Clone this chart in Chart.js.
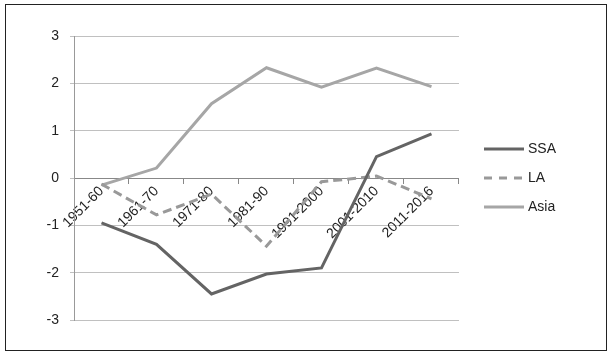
<!DOCTYPE html>
<html>
<head>
<meta charset="utf-8">
<script src="https://cdn.jsdelivr.net/npm/chart.js@4"></script>
<style>
  html, body { margin: 0; padding: 0; background: #fff; }
  #frame { position: absolute; left: 5px; top: 4px; width: 600px; height: 345px; border: 1px solid #222; }
  #wrap { position: absolute; left: 0; top: 0; width: 612px; height: 357px; }
</style>
</head>
<body>
<div id="frame"></div>
<div id="wrap"><canvas id="chart"></canvas></div>
<script>
// decades on the x axis
const periods = ['1951-60', '1961-70', '1971-80', '1981-90', '1991-2000', '2001-2010', '2011-2016'];

// values
const ssa = [-0.95, -1.40, -2.45, -2.03, -1.90, 0.45, 0.93];
const la = [-0.13, -0.78, -0.34, -1.44, -0.08, 0.04, -0.44];
const asia = [-0.15, 0.21, 1.57, 2.33, 1.92, 2.32, 1.93];

const yTicks = [-3, -2, -1, 0, 1, 2, 3];

const font = { family: 'Liberation Sans', size: 14 };

// little line samples for the legend (so the LA sample is dashed too)
function legendLine(color, dash) {
    const c = document.createElement('canvas');
    c.width = 40;
    c.height = 4;
    const g = c.getContext('2d');
    g.strokeStyle = color;
    g.lineWidth = 3;
    g.setLineDash(dash);
    g.beginPath();
    g.moveTo(0, 2);
    g.lineTo(40, 2);
    g.stroke();
    return c;
}

const ctx = document.getElementById('chart').getContext('2d');
const chart = new Chart(ctx, {
    type: 'line',
    data: {
        labels: periods,
        datasets: [{
            label: 'SSA',
            data: ssa,
            borderColor: '#646464',
            backgroundColor: '#646464',
            borderWidth: 3,
            pointStyle: legendLine('#646464', [])
        }, {
            label: 'LA',
            data: la,
            borderColor: '#999999',
            backgroundColor: '#999999',
            borderWidth: 3,
            borderDash: [9, 5],
            pointStyle: legendLine('#999999', [8, 7])
        }, {
            label: 'Asia',
            data: asia,
            borderColor: '#a6a6a6',
            backgroundColor: '#a6a6a6',
            borderWidth: 3,
            pointStyle: legendLine('#a6a6a6', [])
        }]
    },
    options: {
        responsive: true,
        maintainAspectRatio: false,
        animation: false,
        elements: { point: { radius: 0 }, line: { tension: 0 } },
        layout: { padding: { left: 0, top: 36, right: 46, bottom: 37 } },
        plugins: {
            tooltip: { enabled: false },
            legend: {
                position: 'right',
                align: 'center',
                labels: {
                    usePointStyle: true,
                    pointStyleWidth: 34,
                    boxWidth: 34,
                    boxHeight: 4,
                    padding: 15,
                    color: '#222',
                    font: font
                }
            }
        },
        scales: {
            x: {
                position: { y: 0 },
                offset: true,
                grid: { display: true, drawOnChartArea: false, drawTicks: true, tickLength: 5, offset: true, color: '#888' },
                border: { display: true, color: '#888', width: 1 },
                ticks: { maxRotation: 45, minRotation: 45, autoSkip: false, color: '#222', font: font, padding: 0 }
            },
            y: {
                min: -3,
                max: 3,
                afterBuildTicks: function(scale) {
                    scale.ticks = yTicks.map(v => ({ value: v }));
                },
                afterFit: function(scale) { scale.width = 74; },
                grid: { color: '#c0c0c0', tickLength: 4, drawTicks: true },
                border: { display: true, color: '#999' },
                ticks: { color: '#222', font: font, padding: 11 }
            },
            // empty spacer between the plot and the legend
            gap: {
                type: 'linear',
                position: 'right',
                grid: { display: false },
                border: { display: false },
                ticks: { display: false },
                afterFit: function(scale) { scale.width = 13; }
            }
        }
    }
});
</script>
</body>
</html>
